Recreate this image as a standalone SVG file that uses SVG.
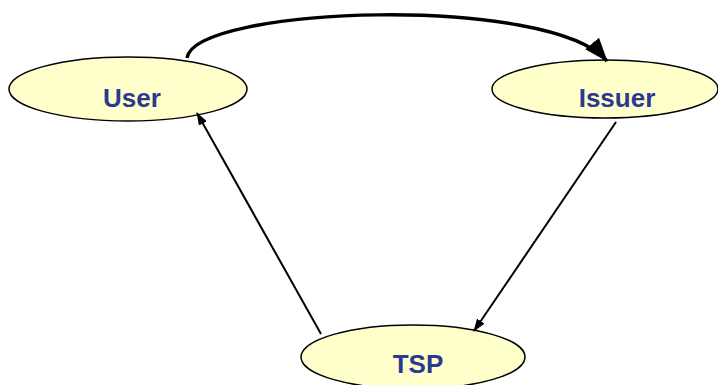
<svg xmlns="http://www.w3.org/2000/svg" width="718" height="385" viewBox="0 0 718 385">
<style>
.node ellipse{fill:#FFFFCC;stroke:#000;stroke-width:1.5}
.node text{font-family:"Liberation Sans",Arial,sans-serif;font-weight:bold;font-size:26px;fill:#2B3990;text-anchor:middle}
.conn{fill:none;stroke:#000}
</style>
<defs>
<marker id="big" viewBox="0 0 24 18" refX="23" refY="9" markerWidth="24" markerHeight="18" markerUnits="userSpaceOnUse" orient="auto"><path d="M0,0 L24,9 L0,18 z" fill="#000"/></marker>
<marker id="small" viewBox="0 0 13 9" refX="12" refY="4.5" markerWidth="13" markerHeight="9" markerUnits="userSpaceOnUse" orient="auto"><path d="M0,0 L13,4.5 L0,9 z" fill="#000"/></marker>
</defs>
<g id="user" class="node"><ellipse cx="128" cy="89" rx="119" ry="32"/><text x="132" y="107">User</text></g>
<g id="issuer" class="node"><ellipse cx="605" cy="89" rx="113" ry="29"/><text x="617" y="107">Issuer</text></g>
<g id="tsp" class="node"><ellipse cx="413" cy="357" rx="112" ry="32"/><text x="418" y="373">TSP</text></g>
<g id="connectors">
<path class="conn" d="M187,58 C195,6 550,-6 607,61" stroke-width="3.5" marker-end="url(#big)"/>
<path class="conn" d="M321,334 L197,113" stroke-width="2" marker-end="url(#small)"/>
<path class="conn" d="M616,122 L474,331" stroke-width="2" marker-end="url(#small)"/>
</g>
</svg>
